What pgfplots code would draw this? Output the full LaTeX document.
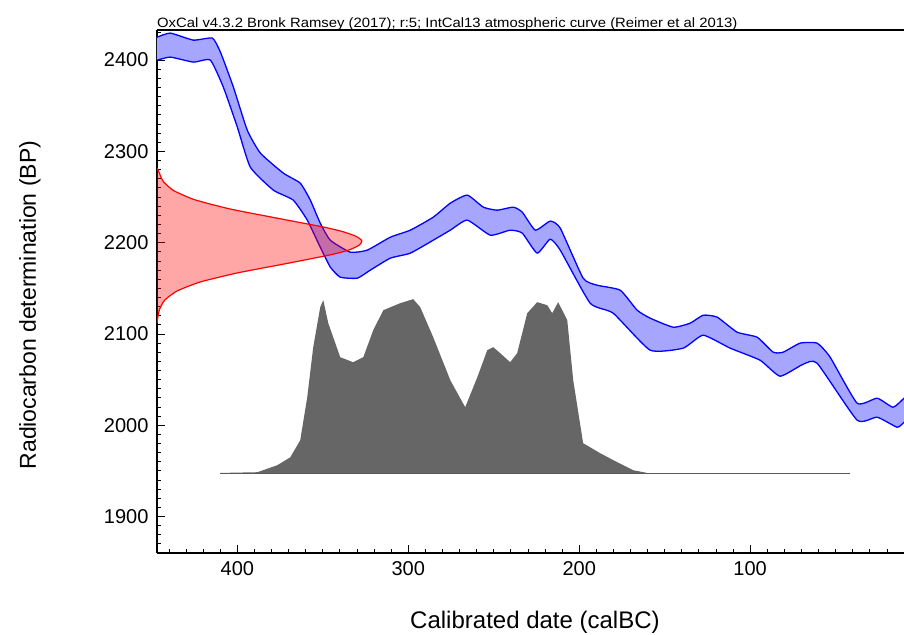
\documentclass[border=0pt]{standalone}
\usepackage{fontspec}
\setmainfont{Liberation Sans}
\usepackage{graphicx}
\usepackage{pgfplots}
\pgfplotsset{compat=1.18}
\begin{document}
\begin{tikzpicture}
\begin{axis}[
  scale only axis, width=747pt, height=523pt,
  x dir=reverse, xmin=10, xmax=447, ymin=1860, ymax=2433,
  axis x line*=box, axis y line*=left,
  xtick={100,200,300,400}, ytick={1900,2000,2100,2200,2300,2400},
  minor xtick={10,20,...,440}, minor ytick={1870,1880,...,2430},
  xtick pos=left, ytick pos=left,
  tick align=inside, major tick length=8pt, minor tick length=4pt,
  axis line style={line width=1.3pt},
  tick style={black, line width=0.8pt},
  /pgf/number format/assume math mode=true,
  /pgf/number format/1000 sep={},
  ticklabel style={font=\fontsize{20}{24}\selectfont},
  yticklabel style={xshift=-5pt},
  xticklabel style={yshift=-5pt},
  xlabel={Calibrated date (calBC)},
  ylabel={Radiocarbon determination (BP)},
  every axis x label/.style={at={(rel axis cs:0.506,0)}, anchor=center, yshift=-69pt, font=\fontsize{24}{28}\selectfont},
  every axis y label/.style={at={(rel axis cs:-0.170,0.474)}, anchor=center, rotate=90, font=\fontsize{23}{27}\selectfont},
  title={\scalebox{1.1}[1]{OxCal v4.3.2 Bronk Ramsey (2017); r:5; IntCal13 atmospheric curve (Reimer et al 2013)}},
  every axis title/.style={at={(rel axis cs:0,1)}, anchor=south west, inner sep=0pt, yshift=-1pt, font=\fontsize{13.5}{15}\selectfont},
  clip=true,
]
\coordinate (bl) at (rel axis cs:0,0);
\coordinate (tr) at (rel axis cs:1,1);
% calibrated probability distribution (grey)
\addplot[draw=none, fill=black!60] coordinates {
(409.9,1947.7) (388.3,1948.5) (376.6,1956.2) (369.0,1964.9) (363.2,1983.6)
(359.1,2030.7) (355.6,2085.5) (351.5,2129.3) (349.7,2137.0) (346.8,2111.8)
(339.8,2074.5) (332.2,2069.0) (326.3,2074.5) (320.5,2104.1) (314.6,2126.0)
(304.7,2133.7) (297.1,2138.1) (293.0,2129.3) (285.4,2096.4) (275.4,2049.3)
(266.7,2019.7) (259.6,2052.6) (253.8,2082.2) (250.3,2085.5) (246.2,2078.9)
(240.4,2069.0) (236.3,2078.9) (230.4,2122.7) (224.6,2134.8) (218.7,2131.5)
(215.8,2122.7) (212.3,2134.8) (207.0,2115.1) (203.5,2049.3) (197.7,1980.3)
(187.7,1969.3) (177.8,1959.5) (168.4,1950.7) (160.2,1947.7)
} -- cycle;
\addplot[black!65, line width=0.8pt] coordinates {(409.9,1947.7) (41.5,1947.7)};
% IntCal13 band (blue)
\addplot[draw=blue, line width=1.3pt, line join=round, fill=blue!35, smooth, tension=0.3] coordinates {
(446.8,2425.2) (439.2,2429.6) (425.7,2421.9) (414.6,2424.1) (409.9,2408.8)
(402.3,2370.4) (394.2,2323.3) (386.5,2298.1) (373.1,2276.2) (363.2,2265.2)
(357.3,2246.6) (351.5,2221.4) (345.6,2202.7) (333.9,2189.6) (324.0,2191.8)
(310.5,2206.0) (298.8,2213.7) (285.4,2227.9) (275.4,2243.3) (265.5,2252.1)
(256.1,2238.9) (248.0,2235.6) (238.6,2238.9) (233.3,2233.4) (225.7,2213.7)
(217.0,2223.6) (211.1,2215.9) (197.7,2161.1) (189.5,2153.4) (176.0,2147.9)
(166.1,2126.0) (158.5,2117.3) (145.0,2107.4) (135.1,2111.8) (127.5,2120.5)
(119.3,2118.4) (107.6,2101.9) (95.9,2096.4) (86.5,2080.0) (80.7,2080.0)
(70.8,2089.9) (60.8,2089.9) (53.2,2074.5) (37.4,2024.1) (25.7,2029.6)
(16.4,2019.7) (9.9,2029.6) (8,2029.6)
(8,2003.3) (9.9,2003.3) (14.0,1997.8) (25.7,2008.8) (37.4,2005.5) (60.8,2067.9)
(69.0,2066.8) (82.5,2053.7) (94.2,2071.2) (111.7,2084.4) (127.5,2098.6)
(139.2,2084.4) (158.5,2082.2) (180.1,2122.7) (193.6,2133.7) (211.1,2191.8)
(217.0,2203.8) (224.6,2188.5) (233.3,2210.4) (240.4,2213.7) (252.0,2208.2)
(265.5,2224.7) (275.4,2213.7) (285.4,2202.7) (298.8,2188.5) (310.5,2183.0)
(322.2,2169.9) (329.8,2161.1) (339.8,2162.2) (345.6,2173.2) (351.5,2195.1)
(359.1,2224.7) (367.3,2246.6) (378.9,2257.5) (392.4,2282.7) (400.0,2326.6)
(408.2,2370.4) (415.8,2400.0) (425.7,2397.8) (439.2,2403.3) (446.8,2400.0)
(449,2400.0) (449,2425.2)
} -- cycle;
% radiocarbon measurement (red)
\addplot[draw=red, line width=1.2pt, line join=round, fill=red, fill opacity=0.35, smooth, tension=0.35] coordinates {
(447,2282) (445.8,2277) (443.3,2267) (437.2,2257) (424.9,2247) (404.5,2237)
(377.2,2227) (349.3,2217) (338.2,2212) (330.6,2207) (327.1,2202) (328.9,2197)
(334.7,2192) (344.7,2187) (371.6,2177) (399.6,2167) (421.6,2157) (435.3,2147)
(442.5,2137) (445.5,2127) (446.6,2117) (447,2112)
};
\end{axis}
\pgfresetboundingbox
\path ([xshift=-157pt,yshift=-82pt]bl) rectangle ([yshift=30pt]tr);
\end{tikzpicture}
\end{document}
